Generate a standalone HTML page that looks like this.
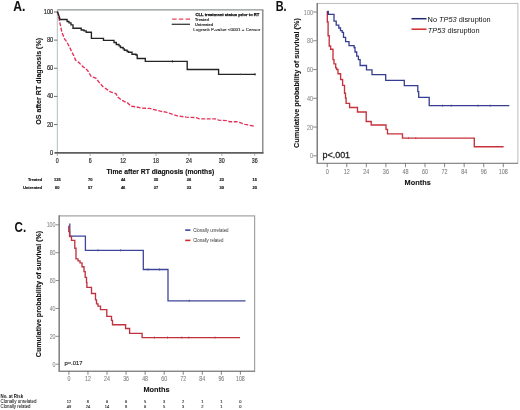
<!DOCTYPE html>
<html><head><meta charset="utf-8"><title>Survival curves</title>
<style>
html,body{margin:0;padding:0;background:#fff;}
body{width:520px;height:410px;overflow:hidden;font-family:"Liberation Sans", sans-serif;}
svg{display:block;will-change:transform;filter:blur(0.35px);}
svg text{font-family:"Liberation Sans", sans-serif;}
</style></head>
<body>
<svg width="520" height="410" viewBox="0 0 520 410">
<rect width="520" height="410" fill="#fff"/>
<text x="13.3" y="10.6" font-size="14.2" font-weight="bold" fill="#111" textLength="12.1" lengthAdjust="spacingAndGlyphs" stroke="#111" stroke-width="0.1">A.</text>
<line x1="57" y1="9.8" x2="263.3" y2="9.8" stroke="#8d9494" stroke-width="1.2"/>
<line x1="262.8" y1="9.8" x2="262.8" y2="153.6" stroke="#7d7d7d" stroke-width="1.3"/>
<line x1="57.3" y1="9.8" x2="57.3" y2="153" stroke="#b4c0c0" stroke-width="1"/>
<text x="53.2" y="154.7" font-size="7.1" text-anchor="end" fill="#2a2a2a" textLength="3.16" lengthAdjust="spacingAndGlyphs" stroke="#2a2a2a" stroke-width="0.2">0</text>
<line x1="54" y1="124.56" x2="57.3" y2="124.56" stroke="#4a4f5a" stroke-width="0.8"/>
<text x="53.2" y="126.56" font-size="7.1" text-anchor="end" fill="#2a2a2a" textLength="6.32" lengthAdjust="spacingAndGlyphs" stroke="#2a2a2a" stroke-width="0.2">20</text>
<line x1="54" y1="96.42" x2="57.3" y2="96.42" stroke="#4a4f5a" stroke-width="0.8"/>
<text x="53.2" y="98.42" font-size="7.1" text-anchor="end" fill="#2a2a2a" textLength="6.32" lengthAdjust="spacingAndGlyphs" stroke="#2a2a2a" stroke-width="0.2">40</text>
<line x1="54" y1="68.28" x2="57.3" y2="68.28" stroke="#4a4f5a" stroke-width="0.8"/>
<text x="53.2" y="70.28" font-size="7.1" text-anchor="end" fill="#2a2a2a" textLength="6.32" lengthAdjust="spacingAndGlyphs" stroke="#2a2a2a" stroke-width="0.2">60</text>
<line x1="54" y1="40.14" x2="57.3" y2="40.14" stroke="#4a4f5a" stroke-width="0.8"/>
<text x="53.2" y="42.14" font-size="7.1" text-anchor="end" fill="#2a2a2a" textLength="6.32" lengthAdjust="spacingAndGlyphs" stroke="#2a2a2a" stroke-width="0.2">80</text>
<line x1="54" y1="12" x2="57.3" y2="12" stroke="#4a4f5a" stroke-width="0.8"/>
<text x="53.2" y="14" font-size="7.1" text-anchor="end" fill="#2a2a2a" textLength="9.48" lengthAdjust="spacingAndGlyphs" stroke="#2a2a2a" stroke-width="0.2">100</text>
<line x1="57.3" y1="153.5" x2="57.3" y2="156" stroke="#999" stroke-width="0.8"/>
<text x="57.3" y="163" font-size="6.6" text-anchor="middle" fill="#2a2a2a" textLength="2.94" lengthAdjust="spacingAndGlyphs" stroke="#2a2a2a" stroke-width="0.2">0</text>
<line x1="90.2" y1="153.5" x2="90.2" y2="156" stroke="#999" stroke-width="0.8"/>
<text x="90.2" y="163" font-size="6.6" text-anchor="middle" fill="#2a2a2a" textLength="2.94" lengthAdjust="spacingAndGlyphs" stroke="#2a2a2a" stroke-width="0.2">6</text>
<line x1="123.1" y1="153.5" x2="123.1" y2="156" stroke="#999" stroke-width="0.8"/>
<text x="123.1" y="163" font-size="6.6" text-anchor="middle" fill="#2a2a2a" textLength="5.87" lengthAdjust="spacingAndGlyphs" stroke="#2a2a2a" stroke-width="0.2">12</text>
<line x1="155.99" y1="153.5" x2="155.99" y2="156" stroke="#999" stroke-width="0.8"/>
<text x="155.99" y="163" font-size="6.6" text-anchor="middle" fill="#2a2a2a" textLength="5.87" lengthAdjust="spacingAndGlyphs" stroke="#2a2a2a" stroke-width="0.2">18</text>
<line x1="188.89" y1="153.5" x2="188.89" y2="156" stroke="#999" stroke-width="0.8"/>
<text x="188.89" y="163" font-size="6.6" text-anchor="middle" fill="#2a2a2a" textLength="5.87" lengthAdjust="spacingAndGlyphs" stroke="#2a2a2a" stroke-width="0.2">24</text>
<line x1="221.79" y1="153.5" x2="221.79" y2="156" stroke="#999" stroke-width="0.8"/>
<text x="221.79" y="163" font-size="6.6" text-anchor="middle" fill="#2a2a2a" textLength="5.87" lengthAdjust="spacingAndGlyphs" stroke="#2a2a2a" stroke-width="0.2">30</text>
<line x1="254.69" y1="153.5" x2="254.69" y2="156" stroke="#999" stroke-width="0.8"/>
<text x="254.69" y="163" font-size="6.6" text-anchor="middle" fill="#2a2a2a" textLength="5.87" lengthAdjust="spacingAndGlyphs" stroke="#2a2a2a" stroke-width="0.2">36</text>
<line x1="54.5" y1="152.9" x2="263.4" y2="152.9" stroke="#5e5e5e" stroke-width="1.6"/>
<text x="106.6" y="173.6" font-size="7.2" font-weight="bold" fill="#111" textLength="107.6" lengthAdjust="spacingAndGlyphs" stroke="#111" stroke-width="0.15">Time after RT diagnosis (months)</text>
<g transform="translate(40.9 81.3) rotate(-90)">
<text x="0" y="0" font-size="8" text-anchor="middle" font-weight="bold" fill="#111" textLength="86.8" lengthAdjust="spacingAndGlyphs" stroke="#111" stroke-width="0.1">OS after RT diagnosis (%)</text>
</g>
<text x="42.1" y="180.8" font-size="4" text-anchor="end" font-weight="bold" fill="#222" textLength="14.2" lengthAdjust="spacingAndGlyphs" stroke="#222" stroke-width="0.18">Treated</text>
<text x="42.1" y="189.4" font-size="4" text-anchor="end" font-weight="bold" fill="#222" textLength="19.2" lengthAdjust="spacingAndGlyphs" stroke="#222" stroke-width="0.18">Untreated</text>
<text x="57.3" y="180.8" font-size="4" text-anchor="middle" font-weight="bold" fill="#222" textLength="6.67" lengthAdjust="spacingAndGlyphs" stroke="#222" stroke-width="0.18">135</text>
<text x="57.3" y="189.4" font-size="4" text-anchor="middle" font-weight="bold" fill="#222" textLength="4.45" lengthAdjust="spacingAndGlyphs" stroke="#222" stroke-width="0.18">60</text>
<text x="90.2" y="180.8" font-size="4" text-anchor="middle" font-weight="bold" fill="#222" textLength="4.45" lengthAdjust="spacingAndGlyphs" stroke="#222" stroke-width="0.18">70</text>
<text x="90.2" y="189.4" font-size="4" text-anchor="middle" font-weight="bold" fill="#222" textLength="4.45" lengthAdjust="spacingAndGlyphs" stroke="#222" stroke-width="0.18">57</text>
<text x="123.1" y="180.8" font-size="4" text-anchor="middle" font-weight="bold" fill="#222" textLength="4.45" lengthAdjust="spacingAndGlyphs" stroke="#222" stroke-width="0.18">44</text>
<text x="123.1" y="189.4" font-size="4" text-anchor="middle" font-weight="bold" fill="#222" textLength="4.45" lengthAdjust="spacingAndGlyphs" stroke="#222" stroke-width="0.18">46</text>
<text x="155.99" y="180.8" font-size="4" text-anchor="middle" font-weight="bold" fill="#222" textLength="4.45" lengthAdjust="spacingAndGlyphs" stroke="#222" stroke-width="0.18">35</text>
<text x="155.99" y="189.4" font-size="4" text-anchor="middle" font-weight="bold" fill="#222" textLength="4.45" lengthAdjust="spacingAndGlyphs" stroke="#222" stroke-width="0.18">37</text>
<text x="188.89" y="180.8" font-size="4" text-anchor="middle" font-weight="bold" fill="#222" textLength="4.45" lengthAdjust="spacingAndGlyphs" stroke="#222" stroke-width="0.18">26</text>
<text x="188.89" y="189.4" font-size="4" text-anchor="middle" font-weight="bold" fill="#222" textLength="4.45" lengthAdjust="spacingAndGlyphs" stroke="#222" stroke-width="0.18">33</text>
<text x="221.79" y="180.8" font-size="4" text-anchor="middle" font-weight="bold" fill="#222" textLength="4.45" lengthAdjust="spacingAndGlyphs" stroke="#222" stroke-width="0.18">23</text>
<text x="221.79" y="189.4" font-size="4" text-anchor="middle" font-weight="bold" fill="#222" textLength="4.45" lengthAdjust="spacingAndGlyphs" stroke="#222" stroke-width="0.18">30</text>
<text x="254.69" y="180.8" font-size="4" text-anchor="middle" font-weight="bold" fill="#222" textLength="4.45" lengthAdjust="spacingAndGlyphs" stroke="#222" stroke-width="0.18">15</text>
<text x="254.69" y="189.4" font-size="4" text-anchor="middle" font-weight="bold" fill="#222" textLength="4.45" lengthAdjust="spacingAndGlyphs" stroke="#222" stroke-width="0.18">20</text>
<text x="195.6" y="15.7" font-size="4" font-weight="bold" fill="#111" textLength="63.8" lengthAdjust="spacingAndGlyphs" stroke="#111" stroke-width="0.25">CLL treatment status prior to RT</text>
<line x1="172.2" y1="19.1" x2="190" y2="19.1" stroke="#e8405a" stroke-width="1.3" stroke-dasharray="4.4 2.3"/>
<text x="194.9" y="20.8" font-size="4" font-weight="bold" fill="#333" textLength="14.1" lengthAdjust="spacingAndGlyphs" stroke="#333" stroke-width="0.1">Treated</text>
<line x1="171.7" y1="24.3" x2="190" y2="24.3" stroke="#3a3a3a" stroke-width="1.3"/>
<text x="194.9" y="25.8" font-size="4" font-weight="bold" fill="#333" textLength="18.3" lengthAdjust="spacingAndGlyphs" stroke="#333" stroke-width="0.1">Untreated</text>
<text x="193.3" y="30.8" font-size="4.1" fill="#222" textLength="67.1" lengthAdjust="spacingAndGlyphs" stroke="#222" stroke-width="0.1">Logrank P-value &lt;0001 + Censor</text>
<path d="M57.6 11.6 L59.3 20 L61.8 31.9 L64.4 38.7 L67 42.1 L70.4 49 L73.8 55.8 L75.5 60 L78.9 62.6 L83.2 66.9 L86.6 69.5 L88.1 71.2 L91.2 76.5 L95.8 78.1 L98.8 81.9 L102.7 86.5 L107.3 89.6 L110.4 91.9 L115.8 93.5 L118.1 97.3 L121.9 100.4 L127.3 102.7 L131.2 106.2 L135.8 106.8 L141.2 108.1 L149.6 108.4 L154.2 109.6 L160.4 111.2 L166 112.2 L172.1 114.2 L177.2 115.8 L186.2 117.2 L196.3 117.6 L199.4 118.8 L215.5 118.8 L218.6 120.2 L226.6 120.6 L229.7 121.7 L236.7 121.7 L240.8 122.9 L244.8 124.3 L249.9 125.3 L254.9 126.3" fill="none" stroke="#e5305a" stroke-width="1.35" stroke-dasharray="3.9 1.6"/>
<path d="M57.3 11.6 L58.2 13.8 L59.1 16.2 L60.1 19.5 H67.1 V21.5 H69 V22.8 H71 V24.8 H73 V28.2 H81.2 V30 H84 V30.9 H86.2 V32.2 H91.4 V38.3 H103.5 V40.3 H114 V42.5 H116.3 V44.5 H119 V45.9 H120.4 V47.5 H123.1 V48.8 H124.4 V50.2 H127.1 V51.5 H128.5 V52.2 H132 V54.2 H136 V55 H137.2 V58.5 H145.3 V61.4 H187.2 V69.5 H218.6 V74.4 H255.5" fill="none" stroke="#242424" stroke-width="1.35"/>
<line x1="172.4" y1="60.3" x2="172.4" y2="62.5" stroke="#242424" stroke-width="0.9"/>
<line x1="240.5" y1="73.5" x2="240.5" y2="75.2" stroke="#555" stroke-width="0.7"/>
<line x1="255" y1="73.2" x2="255" y2="75.5" stroke="#242424" stroke-width="0.9"/>
<text x="275.7" y="10.6" font-size="14.2" font-weight="bold" fill="#111" textLength="10.9" lengthAdjust="spacingAndGlyphs" stroke="#111" stroke-width="0.05">B.</text>
<rect x="317.3" y="3.4" width="200.6" height="159.9" fill="none" stroke="#b4b4b4" stroke-width="0.9"/>
<line x1="317.2" y1="3" x2="317.2" y2="163.8" stroke="#6e6e6e" stroke-width="1.2"/>
<line x1="316.8" y1="163.3" x2="518" y2="163.3" stroke="#808080" stroke-width="1"/>
<line x1="313" y1="155.8" x2="317.2" y2="155.8" stroke="#808080" stroke-width="0.9"/>
<text x="313" y="158.3" font-size="7.2" text-anchor="end" fill="#888" textLength="3.04" lengthAdjust="spacingAndGlyphs" stroke="#888" stroke-width="0.06">0</text>
<line x1="313" y1="127.04" x2="317.2" y2="127.04" stroke="#808080" stroke-width="0.9"/>
<text x="313" y="129.54" font-size="7.2" text-anchor="end" fill="#888" textLength="6.09" lengthAdjust="spacingAndGlyphs" stroke="#888" stroke-width="0.06">20</text>
<line x1="313" y1="98.28" x2="317.2" y2="98.28" stroke="#808080" stroke-width="0.9"/>
<text x="313" y="100.78" font-size="7.2" text-anchor="end" fill="#888" textLength="6.09" lengthAdjust="spacingAndGlyphs" stroke="#888" stroke-width="0.06">40</text>
<line x1="313" y1="69.52" x2="317.2" y2="69.52" stroke="#808080" stroke-width="0.9"/>
<text x="313" y="72.02" font-size="7.2" text-anchor="end" fill="#888" textLength="6.09" lengthAdjust="spacingAndGlyphs" stroke="#888" stroke-width="0.06">60</text>
<line x1="313" y1="40.76" x2="317.2" y2="40.76" stroke="#808080" stroke-width="0.9"/>
<text x="313" y="43.26" font-size="7.2" text-anchor="end" fill="#888" textLength="6.09" lengthAdjust="spacingAndGlyphs" stroke="#888" stroke-width="0.06">80</text>
<line x1="313" y1="12" x2="317.2" y2="12" stroke="#808080" stroke-width="0.9"/>
<text x="313" y="14.5" font-size="7.2" text-anchor="end" fill="#888" textLength="9.13" lengthAdjust="spacingAndGlyphs" stroke="#888" stroke-width="0.06">100</text>
<line x1="327.2" y1="163.3" x2="327.2" y2="167.2" stroke="#666" stroke-width="0.8"/>
<text x="327.2" y="173.8" font-size="7" text-anchor="middle" fill="#7a7a7a" textLength="3.04" lengthAdjust="spacingAndGlyphs" stroke="#7a7a7a" stroke-width="0.06">0</text>
<line x1="346.77" y1="163.3" x2="346.77" y2="167.2" stroke="#666" stroke-width="0.8"/>
<text x="346.77" y="173.8" font-size="7" text-anchor="middle" fill="#7a7a7a" textLength="6.07" lengthAdjust="spacingAndGlyphs" stroke="#7a7a7a" stroke-width="0.06">12</text>
<line x1="366.33" y1="163.3" x2="366.33" y2="167.2" stroke="#666" stroke-width="0.8"/>
<text x="366.33" y="173.8" font-size="7" text-anchor="middle" fill="#7a7a7a" textLength="6.07" lengthAdjust="spacingAndGlyphs" stroke="#7a7a7a" stroke-width="0.06">24</text>
<line x1="385.9" y1="163.3" x2="385.9" y2="167.2" stroke="#666" stroke-width="0.8"/>
<text x="385.9" y="173.8" font-size="7" text-anchor="middle" fill="#7a7a7a" textLength="6.07" lengthAdjust="spacingAndGlyphs" stroke="#7a7a7a" stroke-width="0.06">36</text>
<line x1="405.47" y1="163.3" x2="405.47" y2="167.2" stroke="#666" stroke-width="0.8"/>
<text x="405.47" y="173.8" font-size="7" text-anchor="middle" fill="#7a7a7a" textLength="6.07" lengthAdjust="spacingAndGlyphs" stroke="#7a7a7a" stroke-width="0.06">48</text>
<line x1="425.04" y1="163.3" x2="425.04" y2="167.2" stroke="#666" stroke-width="0.8"/>
<text x="425.04" y="173.8" font-size="7" text-anchor="middle" fill="#7a7a7a" textLength="6.07" lengthAdjust="spacingAndGlyphs" stroke="#7a7a7a" stroke-width="0.06">60</text>
<line x1="444.6" y1="163.3" x2="444.6" y2="167.2" stroke="#666" stroke-width="0.8"/>
<text x="444.6" y="173.8" font-size="7" text-anchor="middle" fill="#7a7a7a" textLength="6.07" lengthAdjust="spacingAndGlyphs" stroke="#7a7a7a" stroke-width="0.06">72</text>
<line x1="464.17" y1="163.3" x2="464.17" y2="167.2" stroke="#666" stroke-width="0.8"/>
<text x="464.17" y="173.8" font-size="7" text-anchor="middle" fill="#7a7a7a" textLength="6.07" lengthAdjust="spacingAndGlyphs" stroke="#7a7a7a" stroke-width="0.06">84</text>
<line x1="483.74" y1="163.3" x2="483.74" y2="167.2" stroke="#666" stroke-width="0.8"/>
<text x="483.74" y="173.8" font-size="7" text-anchor="middle" fill="#7a7a7a" textLength="6.07" lengthAdjust="spacingAndGlyphs" stroke="#7a7a7a" stroke-width="0.06">96</text>
<line x1="503.3" y1="163.3" x2="503.3" y2="167.2" stroke="#666" stroke-width="0.8"/>
<text x="503.3" y="173.8" font-size="7" text-anchor="middle" fill="#7a7a7a" textLength="9.11" lengthAdjust="spacingAndGlyphs" stroke="#7a7a7a" stroke-width="0.06">108</text>
<text x="404.6" y="185.1" font-size="8" font-weight="bold" fill="#111" textLength="26.2" lengthAdjust="spacingAndGlyphs" stroke="#111" stroke-width="0.1">Months</text>
<g transform="translate(298.7 83) rotate(-90)">
<text x="0" y="0" font-size="7.3" text-anchor="middle" font-weight="bold" fill="#111" textLength="129.8" lengthAdjust="spacingAndGlyphs" stroke="#111" stroke-width="0.1">Cumulative probability of survival (%)</text>
</g>
<text x="322.5" y="157.5" font-size="8.6" fill="#262626" textLength="27.6" lengthAdjust="spacingAndGlyphs" stroke="#262626" stroke-width="0.3">p&lt;.001</text>
<line x1="411.5" y1="18.7" x2="426.5" y2="18.7" stroke="#232a72" stroke-width="1.5"/>
<text x="427.6" y="21.9" font-size="7.4" fill="#111" textLength="63" lengthAdjust="spacingAndGlyphs">No <tspan font-style="italic">TP53</tspan> disruption</text>
<line x1="411.5" y1="29.2" x2="426.5" y2="29.2" stroke="#d42a2a" stroke-width="1.5"/>
<text x="427.8" y="32.5" font-size="7.4" fill="#111" textLength="51.8" lengthAdjust="spacingAndGlyphs"><tspan font-style="italic">TP53</tspan> disruption</text>
<path d="M327.7 11.3 V14.4 H334 V21.2 H336.2 V25.1 H338.8 V28 H340.5 V30.6 H342.2 V32.3 H343.5 V37.4 H345.6 V41.7 H349 V45.6 H354.1 V47.5 H355 V52 H356.7 V56.2 H358.4 V59.6 H360.1 V65.5 H366.5 V69.8 H372 V74.7 H385.7 V80.4 H404.3 V85.6 H417.8 V91.7 H418.7 V97.4 H429.2 V105.7 H509.3" fill="none" stroke="#363d90" stroke-width="1.3"/>
<path d="M327.3 11.3 V22 H328.1 V35.7 H329.2 V46 H330.6 V49.2 H333 V59.6 H334 V63.9 H335.7 V67.8 H336.6 V69.5 H338 V73.7 H340.6 V79.5 H342.6 V85.4 H344.5 V93.2 H345.5 V98 H346.1 V103.3 H349.6 V107.5 H357.5 V112 H366.2 V121.5 H371.2 V125 H386 V129.3 H387.5 V133.8 H402.5 V138.1 H474.3 V146.7 H503.6" fill="none" stroke="#c6323a" stroke-width="1.35"/>
<path d="M328.1 10.8 V14.6" fill="none" stroke="#2a3080" stroke-width="1.5"/>
<line x1="442.6" y1="104.6" x2="442.6" y2="106.8" stroke="#3e459a" stroke-width="0.7"/>
<line x1="451.2" y1="104.6" x2="451.2" y2="106.8" stroke="#3e459a" stroke-width="0.7"/>
<line x1="478" y1="104.6" x2="478" y2="106.8" stroke="#3e459a" stroke-width="0.7"/>
<line x1="490.2" y1="104.6" x2="490.2" y2="106.8" stroke="#3e459a" stroke-width="0.7"/>
<line x1="408.4" y1="137" x2="408.4" y2="139.2" stroke="#c6323a" stroke-width="0.7"/>
<line x1="415.8" y1="137" x2="415.8" y2="139.2" stroke="#c6323a" stroke-width="0.7"/>
<text x="14.5" y="231.6" font-size="14.2" font-weight="bold" fill="#111" textLength="11.6" lengthAdjust="spacingAndGlyphs">C.</text>
<rect x="59.2" y="215.9" width="195.4" height="155.4" fill="none" stroke="#a2a2a2" stroke-width="1.2"/>
<line x1="59.2" y1="215.3" x2="59.2" y2="371.5" stroke="#7c7c7c" stroke-width="1.2"/>
<line x1="58.8" y1="371.3" x2="255" y2="371.3" stroke="#7c7c7c" stroke-width="1.1"/>
<line x1="55.6" y1="364.2" x2="59.2" y2="364.2" stroke="#808080" stroke-width="0.9"/>
<text x="55.5" y="366.5" font-size="6.6" text-anchor="end" fill="#888" textLength="2.94" lengthAdjust="spacingAndGlyphs" stroke="#888" stroke-width="0.06">0</text>
<line x1="55.6" y1="336.32" x2="59.2" y2="336.32" stroke="#808080" stroke-width="0.9"/>
<text x="55.5" y="338.62" font-size="6.6" text-anchor="end" fill="#888" textLength="5.87" lengthAdjust="spacingAndGlyphs" stroke="#888" stroke-width="0.06">20</text>
<line x1="55.6" y1="308.44" x2="59.2" y2="308.44" stroke="#808080" stroke-width="0.9"/>
<text x="55.5" y="310.74" font-size="6.6" text-anchor="end" fill="#888" textLength="5.87" lengthAdjust="spacingAndGlyphs" stroke="#888" stroke-width="0.06">40</text>
<line x1="55.6" y1="280.56" x2="59.2" y2="280.56" stroke="#808080" stroke-width="0.9"/>
<text x="55.5" y="282.86" font-size="6.6" text-anchor="end" fill="#888" textLength="5.87" lengthAdjust="spacingAndGlyphs" stroke="#888" stroke-width="0.06">60</text>
<line x1="55.6" y1="252.68" x2="59.2" y2="252.68" stroke="#808080" stroke-width="0.9"/>
<text x="55.5" y="254.98" font-size="6.6" text-anchor="end" fill="#888" textLength="5.87" lengthAdjust="spacingAndGlyphs" stroke="#888" stroke-width="0.06">80</text>
<line x1="55.6" y1="224.8" x2="59.2" y2="224.8" stroke="#808080" stroke-width="0.9"/>
<text x="55.5" y="227.1" font-size="6.6" text-anchor="end" fill="#888" textLength="8.81" lengthAdjust="spacingAndGlyphs" stroke="#888" stroke-width="0.06">100</text>
<line x1="68.9" y1="371" x2="68.9" y2="374.8" stroke="#666" stroke-width="0.8"/>
<text x="68.9" y="381.3" font-size="6.6" text-anchor="middle" fill="#7a7a7a" textLength="2.94" lengthAdjust="spacingAndGlyphs" stroke="#7a7a7a" stroke-width="0.06">0</text>
<line x1="87.96" y1="371" x2="87.96" y2="374.8" stroke="#666" stroke-width="0.8"/>
<text x="87.96" y="381.3" font-size="6.6" text-anchor="middle" fill="#7a7a7a" textLength="5.87" lengthAdjust="spacingAndGlyphs" stroke="#7a7a7a" stroke-width="0.06">12</text>
<line x1="107.01" y1="371" x2="107.01" y2="374.8" stroke="#666" stroke-width="0.8"/>
<text x="107.01" y="381.3" font-size="6.6" text-anchor="middle" fill="#7a7a7a" textLength="5.87" lengthAdjust="spacingAndGlyphs" stroke="#7a7a7a" stroke-width="0.06">24</text>
<line x1="126.07" y1="371" x2="126.07" y2="374.8" stroke="#666" stroke-width="0.8"/>
<text x="126.07" y="381.3" font-size="6.6" text-anchor="middle" fill="#7a7a7a" textLength="5.87" lengthAdjust="spacingAndGlyphs" stroke="#7a7a7a" stroke-width="0.06">36</text>
<line x1="145.12" y1="371" x2="145.12" y2="374.8" stroke="#666" stroke-width="0.8"/>
<text x="145.12" y="381.3" font-size="6.6" text-anchor="middle" fill="#7a7a7a" textLength="5.87" lengthAdjust="spacingAndGlyphs" stroke="#7a7a7a" stroke-width="0.06">48</text>
<line x1="164.18" y1="371" x2="164.18" y2="374.8" stroke="#666" stroke-width="0.8"/>
<text x="164.18" y="381.3" font-size="6.6" text-anchor="middle" fill="#7a7a7a" textLength="5.87" lengthAdjust="spacingAndGlyphs" stroke="#7a7a7a" stroke-width="0.06">60</text>
<line x1="183.24" y1="371" x2="183.24" y2="374.8" stroke="#666" stroke-width="0.8"/>
<text x="183.24" y="381.3" font-size="6.6" text-anchor="middle" fill="#7a7a7a" textLength="5.87" lengthAdjust="spacingAndGlyphs" stroke="#7a7a7a" stroke-width="0.06">72</text>
<line x1="202.29" y1="371" x2="202.29" y2="374.8" stroke="#666" stroke-width="0.8"/>
<text x="202.29" y="381.3" font-size="6.6" text-anchor="middle" fill="#7a7a7a" textLength="5.87" lengthAdjust="spacingAndGlyphs" stroke="#7a7a7a" stroke-width="0.06">84</text>
<line x1="221.35" y1="371" x2="221.35" y2="374.8" stroke="#666" stroke-width="0.8"/>
<text x="221.35" y="381.3" font-size="6.6" text-anchor="middle" fill="#7a7a7a" textLength="5.87" lengthAdjust="spacingAndGlyphs" stroke="#7a7a7a" stroke-width="0.06">96</text>
<line x1="240.4" y1="371" x2="240.4" y2="374.8" stroke="#666" stroke-width="0.8"/>
<text x="240.4" y="381.3" font-size="6.6" text-anchor="middle" fill="#7a7a7a" textLength="8.81" lengthAdjust="spacingAndGlyphs" stroke="#7a7a7a" stroke-width="0.06">108</text>
<text x="143.4" y="392.3" font-size="8" font-weight="bold" fill="#111" textLength="26.2" lengthAdjust="spacingAndGlyphs" stroke="#111" stroke-width="0.1">Months</text>
<g transform="translate(40.9 294) rotate(-90)">
<text x="0" y="0" font-size="7.1" text-anchor="middle" font-weight="bold" fill="#111" textLength="126.3" lengthAdjust="spacingAndGlyphs" stroke="#111" stroke-width="0.1">Cumulative probability of survival (%)</text>
</g>
<text x="64.4" y="365.2" font-size="5.8" fill="#222" textLength="18" lengthAdjust="spacingAndGlyphs" stroke="#222" stroke-width="0.15">p=.017</text>
<line x1="185.2" y1="230.1" x2="190.4" y2="230.1" stroke="#3e459a" stroke-width="1.6"/>
<text x="193.2" y="231.8" font-size="4.8" fill="#333" textLength="35.4" lengthAdjust="spacingAndGlyphs">Clonally unrelated</text>
<line x1="185.2" y1="240.4" x2="190.4" y2="240.4" stroke="#d42a2a" stroke-width="1.6"/>
<text x="193.2" y="242.1" font-size="4.8" fill="#333" textLength="30.2" lengthAdjust="spacingAndGlyphs">Clonally related</text>
<path d="M69.8 223.6 V236.1 H85.4 V250.3 H143.3 V269.5 H168 V300.8 H245.5" fill="none" stroke="#3e459a" stroke-width="1.3"/>
<path d="M68.8 225.7 V231.6 H69.6 V236.5 H71.5 V240.4 H74.8 V248.2 H76 V258.9 H78 V260.9 H80 V262.8 H82 V266.7 H84 V271.6 H85.2 V277.4 H86.5 V282.3 H86.9 V287.3 H91.5 V293.5 H95.5 V299.8 H96.5 V303.8 H98 V306.1 H100.5 V309.6 H106.8 V316.4 H111.5 V320.4 H112.5 V324.7 H125.6 V328.5 H129.6 V333.4 H142.1 V337.6 H240" fill="none" stroke="#c0323e" stroke-width="1.35"/>
<line x1="98" y1="249.2" x2="98" y2="251.4" stroke="#3e459a" stroke-width="0.7"/>
<line x1="120.5" y1="249.2" x2="120.5" y2="251.4" stroke="#3e459a" stroke-width="0.7"/>
<line x1="148" y1="268.4" x2="148" y2="270.6" stroke="#3e459a" stroke-width="0.7"/>
<line x1="159.5" y1="268.4" x2="159.5" y2="270.6" stroke="#3e459a" stroke-width="0.7"/>
<line x1="189.3" y1="299.7" x2="189.3" y2="301.9" stroke="#3e459a" stroke-width="0.7"/>
<line x1="154.3" y1="336.5" x2="154.3" y2="338.7" stroke="#c0323e" stroke-width="0.7"/>
<line x1="167.5" y1="336.5" x2="167.5" y2="338.7" stroke="#c0323e" stroke-width="0.7"/>
<line x1="181.8" y1="336.5" x2="181.8" y2="338.7" stroke="#c0323e" stroke-width="0.7"/>
<line x1="188.8" y1="336.5" x2="188.8" y2="338.7" stroke="#c0323e" stroke-width="0.7"/>
<line x1="215" y1="336.5" x2="215" y2="338.7" stroke="#c0323e" stroke-width="0.7"/>
<text x="0.5" y="398.1" font-size="4.8" font-weight="bold" fill="#111" textLength="22.6" lengthAdjust="spacingAndGlyphs">No. at Risk</text>
<text x="0.5" y="402.7" font-size="4.6" fill="#222" textLength="36" lengthAdjust="spacingAndGlyphs" stroke="#222" stroke-width="0.05">Clonally unrelated</text>
<text x="0.5" y="408.1" font-size="4.6" fill="#222" textLength="30" lengthAdjust="spacingAndGlyphs" stroke="#222" stroke-width="0.05">Clonally related</text>
<text x="68.9" y="402.6" font-size="4" text-anchor="middle" fill="#222" stroke="#222" stroke-width="0.1">12</text>
<text x="68.9" y="407.9" font-size="4" text-anchor="middle" fill="#222" stroke="#222" stroke-width="0.1">49</text>
<text x="87.96" y="402.6" font-size="4" text-anchor="middle" fill="#222" stroke="#222" stroke-width="0.1">8</text>
<text x="87.96" y="407.9" font-size="4" text-anchor="middle" fill="#222" stroke="#222" stroke-width="0.1">24</text>
<text x="107.01" y="402.6" font-size="4" text-anchor="middle" fill="#222" stroke="#222" stroke-width="0.1">6</text>
<text x="107.01" y="407.9" font-size="4" text-anchor="middle" fill="#222" stroke="#222" stroke-width="0.1">14</text>
<text x="126.07" y="402.6" font-size="4" text-anchor="middle" fill="#222" stroke="#222" stroke-width="0.1">6</text>
<text x="126.07" y="407.9" font-size="4" text-anchor="middle" fill="#222" stroke="#222" stroke-width="0.1">8</text>
<text x="145.12" y="402.6" font-size="4" text-anchor="middle" fill="#222" stroke="#222" stroke-width="0.1">5</text>
<text x="145.12" y="407.9" font-size="4" text-anchor="middle" fill="#222" stroke="#222" stroke-width="0.1">6</text>
<text x="164.18" y="402.6" font-size="4" text-anchor="middle" fill="#222" stroke="#222" stroke-width="0.1">3</text>
<text x="164.18" y="407.9" font-size="4" text-anchor="middle" fill="#222" stroke="#222" stroke-width="0.1">5</text>
<text x="183.24" y="402.6" font-size="4" text-anchor="middle" fill="#222" stroke="#222" stroke-width="0.1">2</text>
<text x="183.24" y="407.9" font-size="4" text-anchor="middle" fill="#222" stroke="#222" stroke-width="0.1">3</text>
<text x="202.29" y="402.6" font-size="4" text-anchor="middle" fill="#222" stroke="#222" stroke-width="0.1">1</text>
<text x="202.29" y="407.9" font-size="4" text-anchor="middle" fill="#222" stroke="#222" stroke-width="0.1">2</text>
<text x="221.35" y="402.6" font-size="4" text-anchor="middle" fill="#222" stroke="#222" stroke-width="0.1">1</text>
<text x="221.35" y="407.9" font-size="4" text-anchor="middle" fill="#222" stroke="#222" stroke-width="0.1">1</text>
<text x="240.4" y="402.6" font-size="4" text-anchor="middle" fill="#222" stroke="#222" stroke-width="0.1">0</text>
<text x="240.4" y="407.9" font-size="4" text-anchor="middle" fill="#222" stroke="#222" stroke-width="0.1">0</text>
</svg>
</body></html>
